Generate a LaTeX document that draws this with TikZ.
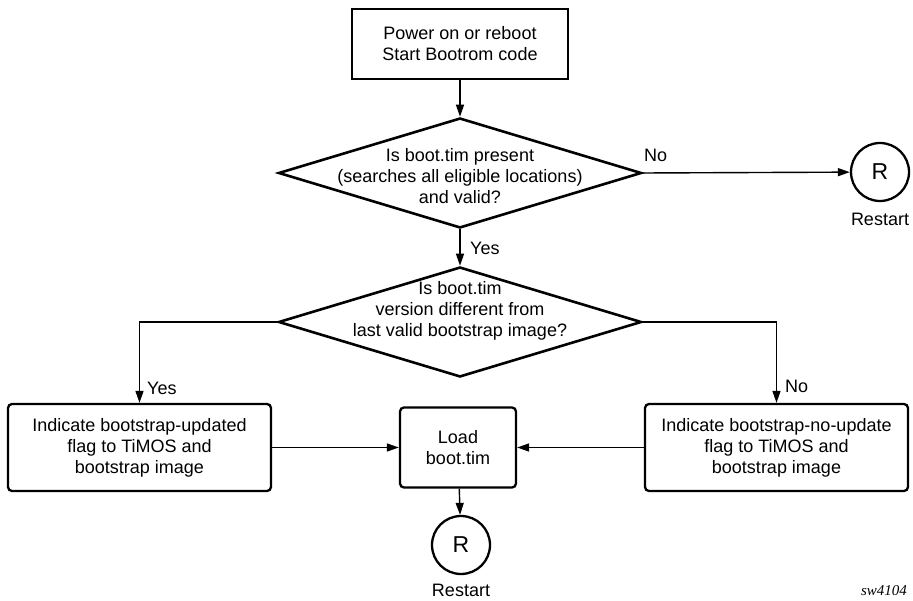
\documentclass[tikz,border=0pt]{standalone}
\usepackage{fontspec}
\setmainfont{Liberation Sans}
\newfontfamily\figserif{Liberation Serif}
\usepackage{tikz}
\usetikzlibrary{shapes.geometric}
\usetikzlibrary{arrows.meta}
\usetikzlibrary{positioning}

\begin{document}
\begin{tikzpicture}[x=1pt,y=-1pt,
  font=\fontsize{18}{21}\selectfont,
  startbox/.style={draw,line width=2.8pt,inner sep=0pt,align=center,
    minimum width=216pt,minimum height=70pt},
  stepbox/.style={draw,line width=2.3pt,rounded corners=4pt,inner sep=0pt,
    align=center,minimum height=87pt},
  decision/.style={draw,diamond,line width=2.6pt,inner sep=0pt,
    minimum width=363pt,minimum height=110pt},
  restart/.style={draw,circle,line width=2.3pt,inner sep=0pt,minimum size=58pt,
    font=\fontsize{23}{26}\selectfont},
  flow/.style={line width=1.4pt,-{Triangle[length=12pt,width=8pt]}},
  lbl/.style={inner sep=0pt}]
\useasboundingbox (0,0) rectangle (913,601);
% boxes and decisions
\node (start) [startbox] at (460,44) {Power on or reboot\\Start Bootrom code};
\node (present) [decision] at (460,173) {};
\node (presenttxt) [align=center] at (460,176) {Is boot.tim present\\(searches all eligible locations)\\and valid?};
\node (differ) [decision] at (460,322) {};
\node (differtxt) [align=center] at (460,311) {Is boot.tim\\version different from\\last valid bootstrap image?};
\node (upd) [stepbox,minimum width=263pt] at (139.5,447.5)
  {Indicate bootstrap-updated\\flag to TiMOS and\\bootstrap image};
\node (load) [stepbox,minimum width=116pt,minimum height=80pt] at (458,447.5)
  {Load\\boot.tim};
\node (noupd) [stepbox,minimum width=263pt] at (776.5,447.5)
  {Indicate bootstrap-no-update\\flag to TiMOS and\\bootstrap image};
\node (rst1) [restart] at (880,172) {R};
\node (rst2) [restart] at (461,545) {R};
\node (rst1txt) [lbl] at (880,219.5) {Restart};
\node (rst2txt) [lbl] at (461,590) {Restart};
% connectors
\draw[flow] (start) -- (present);
\draw[flow] (present.east) -- (rst1);
\draw[flow] (present) -- (differ);
\draw[flow] (differ.west) -| (upd.north);
\draw[flow] (differ.east) -| (noupd.north);
\draw[flow] (upd) -- (load);
\draw[flow] (noupd) -- (load);
\draw[flow] (load) -- (rst2);
% labels
\node (no1) [lbl,anchor=west] at (644,155) {No};
\node (yes1) [lbl,anchor=west] at (470,248) {Yes};
\node (yes2) [lbl,anchor=west] at (147,388) {Yes};
\node (no2) [lbl,anchor=west] at (785,386) {No};
\node (figid) [lbl] at (884,591) {\figserif\itshape\fontsize{15}{17}\selectfont sw4104};
\end{tikzpicture}
\end{document}
